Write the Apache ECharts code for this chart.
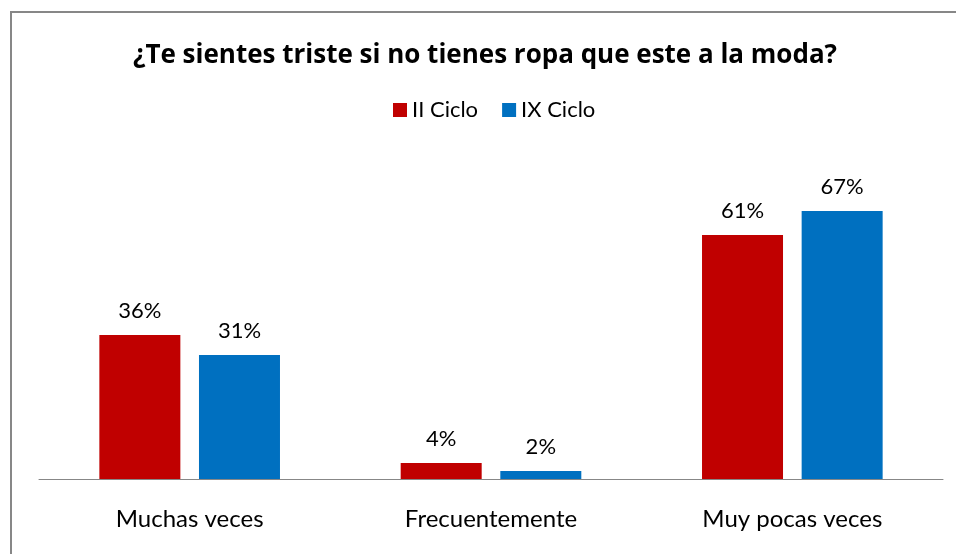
<!DOCTYPE html>
<html>
<head>
<meta charset="utf-8">
<script src="https://cdn.jsdelivr.net/npm/echarts@6/dist/echarts.min.js"></script>
<style>
html, body { margin: 0; padding: 0; background: #fff; }
#chart { width: 956px; height: 554px; }
</style>
</head>
<body>
<div id="chart"></div>
<script>
// datos
var categorias = ['Muchas veces', 'Frecuentemente', 'Muy pocas veces'];
var iiCiclo = [36, 4, 61];
var ixCiclo = [31, 2, 67];

var fuente = 'Lato';

var chart = echarts.init(document.getElementById('chart'));

var option = {
    animation: false,
    backgroundColor: '#fff',
    title: {
        text: '¿Te sientes triste si no tienes ropa que este a la moda?',
        left: 128,
        top: 38,
        textStyle: {
            fontFamily: 'Open Sans',
            fontSize: 26,
            fontWeight: 'bold',
            color: '#000'
        }
    },
    legend: {
        top: 94,
        left: 388,
        icon: 'rect',
        itemWidth: 14,
        itemHeight: 14,
        itemGap: 24,
        textStyle: { fontFamily: fuente, fontSize: 22, color: '#000' },
        data: ['II Ciclo', 'IX Ciclo']
    },
    grid: {
        left: 39,
        right: 13,
        top: 159,
        bottom: 75
    },
    xAxis: {
        type: 'category',
        data: categorias,
        axisLine: { lineStyle: { color: '#878787', width: 1 } },
        axisTick: { show: false },
        axisLabel: {
            margin: 28,
            fontFamily: fuente,
            fontSize: 24,
            color: '#000'
        }
    },
    yAxis: {
        type: 'value',
        min: 0,
        max: 80,
        show: false
    },
    series: [
        {
            name: 'II Ciclo',
            type: 'bar',
            data: iiCiclo,
            barWidth: 81,
            barGap: '23%',
            itemStyle: { color: '#C00000' },
            label: {
                show: true,
                position: 'top',
                distance: 13,
                formatter: '{c}%',
                fontFamily: fuente,
                fontSize: 22,
                color: '#000'
            }
        },
        {
            name: 'IX Ciclo',
            type: 'bar',
            data: ixCiclo,
            barWidth: 81,
            itemStyle: { color: '#0070C0' },
            label: {
                show: true,
                position: 'top',
                distance: 13,
                formatter: '{c}%',
                fontFamily: fuente,
                fontSize: 22,
                color: '#000'
            }
        }
    ],
    graphic: [
        {
            // marco del area del grafico (cortado a la derecha y abajo)
            type: 'rect',
            shape: { x: 11, y: 12, width: 1000, height: 600 },
            style: { fill: null, stroke: '#878787', lineWidth: 2 },
            silent: true
        }
    ]
};

chart.setOption(option);
</script>
</body>
</html>
